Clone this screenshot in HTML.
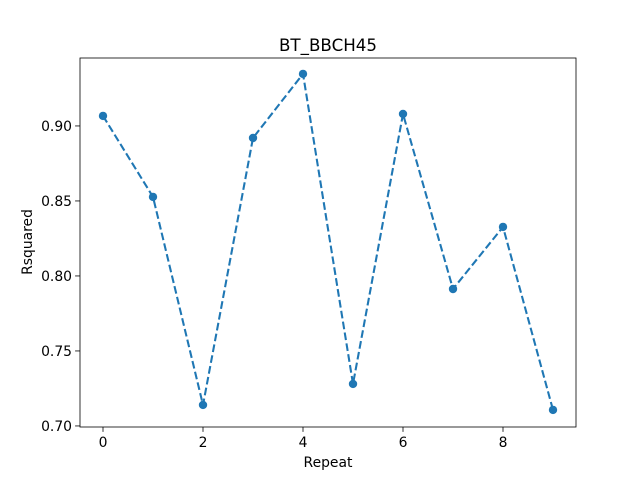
<!DOCTYPE html>
<html><head><meta charset="utf-8"><style>
body{margin:0;background:#fff;}
svg text{font-family:"DejaVu Sans","Liberation Sans",sans-serif;fill:#000;}
</style></head><body>
<svg id="chart" width="640" height="480" xmlns="http://www.w3.org/2000/svg">
<rect x="0" y="0" width="640" height="480" fill="#fff"/>
<text x="328" y="51" font-size="16.7" text-anchor="middle">BT_BBCH45</text>
<text x="328" y="467" font-size="13.9" text-anchor="middle">Repeat</text>
<text x="0" y="0" font-size="13.9" text-anchor="middle" transform="translate(32,242) rotate(-90)">Rsquared</text>
<g id="plot"></g>
</svg>
<script>
const xValues=[0,1,2,3,4,5,6,7,8,9];
const yValues=[0.9067,0.8527,0.714,0.892,0.9347,0.728,0.908,0.7913,0.8327,0.7107];
const xTicks=[0,2,4,6,8];
const yTicks=[0.70,0.75,0.80,0.85,0.90];
const yTickLabels=["0.70","0.75","0.80","0.85","0.90"];
const L=80,R=576,T=58,B=427;
const xmin=-0.46,xmax=9.46,ymin=0.6993,ymax=0.9453;
const sx=v=>L+(v-xmin)/(xmax-xmin)*(R-L);
const sy=v=>B-(v-ymin)/(ymax-ymin)*(B-T);
const NS="http://www.w3.org/2000/svg";
const g=document.getElementById('plot');
function mk(t,a){const e=document.createElementNS(NS,t);for(const k in a)e.setAttribute(k,a[k]);g.appendChild(e);return e;}
xTicks.forEach(v=>{
  const l=mk('line',{x1:sx(v),x2:sx(v),y1:B,y2:B+4.9,stroke:'#000','stroke-width':0.8});
  
  
  const t=mk('text',{x:sx(v),y:B+20,'font-size':13.9,'text-anchor':'middle'});t.textContent=v;
  
  
});
yTicks.forEach((v,i)=>{
  const l=mk('line',{x1:L-4.9,x2:L,y1:sy(v),y2:sy(v),stroke:'#000','stroke-width':0.8});
  
  
  const t=mk('text',{x:L-8,y:sy(v)+5,'font-size':13.9,'text-anchor':'end'});t.textContent=yTickLabels[i];
  
  
});
const pts=xValues.map((x,i)=>sx(x)+','+sy(yValues[i])).join(' ');
const pl=mk('polyline',{points:pts,fill:'none',stroke:'#1f77b4','stroke-width':2.08,'stroke-dasharray':'7.7,3.3'});


xValues.forEach((x,i)=>{
  const c=mk('circle',{cx:sx(x),cy:sy(yValues[i]),r:4.2,fill:'#1f77b4'});
  
  
});
const fr=mk('rect',{x:L,y:T,width:R-L,height:B-T,fill:'none',stroke:'#000','stroke-width':0.8});


</script>
</body></html>
